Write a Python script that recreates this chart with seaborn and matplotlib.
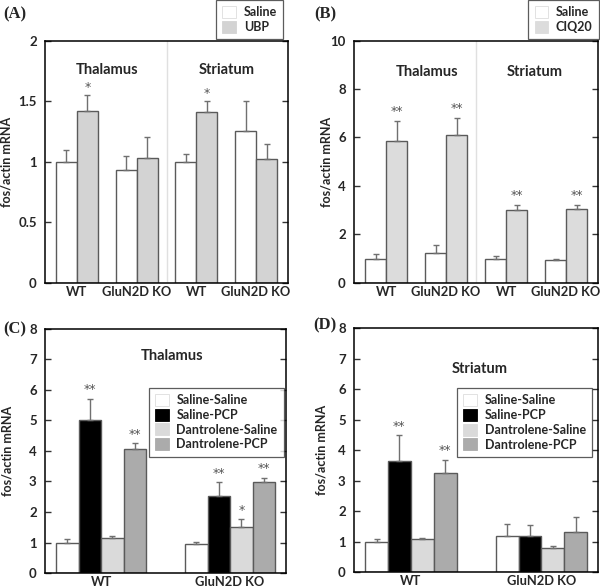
import numpy as np
import pandas as pd
import matplotlib
matplotlib.use("Agg")
import matplotlib.pyplot as plt
import seaborn as sns
from matplotlib.patches import Patch

# ---- data ----
ab_keys = ["Thal WT", "Thal KO", "Str WT", "Str KO"]
ab_ticks = ["WT", "GluN2D KO", "WT", "GluN2D KO"]

a_saline = [1.00, 0.93, 1.00, 1.25]
a_saline_err = [0.10, 0.12, 0.06, 0.25]
a_ubp = [1.42, 1.03, 1.41, 1.02]
a_ubp_err = [0.13, 0.17, 0.09, 0.13]
a_stars = [["", "", "", ""], ["*", "", "*", ""]]

b_saline = [1.00, 1.25, 1.00, 0.95]
b_saline_err = [0.17, 0.33, 0.10, 0.05]
b_ciq = [5.87, 6.10, 3.02, 3.05]
b_ciq_err = [0.83, 0.72, 0.20, 0.18]
b_stars = [["", "", "", ""], ["**", "**", "**", "**"]]

cd_keys = ["WT", "GluN2D KO"]
cd_groups = ["Saline-Saline", "Saline-PCP", "Dantrolene-Saline", "Dantrolene-PCP"]

c_vals = [[1.00, 0.95], [5.00, 2.52], [1.15, 1.52], [4.08, 2.98]]
c_err = [[0.10, 0.08], [0.72, 0.45], [0.06, 0.25], [0.18, 0.15]]
c_stars = [["", ""], ["**", "**"], ["", "*"], ["**", "**"]]

d_vals = [[1.00, 1.17], [3.63, 1.18], [1.10, 0.80], [3.26, 1.30]]
d_err = [[0.10, 0.40], [0.85, 0.38], [0.03, 0.06], [0.42, 0.50]]
d_stars = [["", ""], ["**", ""], ["", ""], ["**", ""]]

sns.set_style("white")
plt.rcParams["font.family"] = ["Lato", "DejaVu Sans"]

fig = plt.figure(figsize=(6, 5.88), dpi=100)
axA = fig.add_axes([0.075, 0.519, 0.405, 0.412])
axB = fig.add_axes([0.590, 0.519, 0.407, 0.412])
axC = fig.add_axes([0.075, 0.0255, 0.402, 0.415])
axD = fig.add_axes([0.590, 0.027, 0.407, 0.415])

EDGE = "#5a5a5a"


def draw(ax, keys, groups, vals, errs, stars, colors, ymax, step, star_off):
    rows = []
    for g, v in zip(groups, vals):
        for k, y in zip(keys, v):
            rows.append({"cat": k, "grp": g, "val": y})
    df = pd.DataFrame(rows)
    sns.barplot(data=df, x="cat", y="val", hue="grp", order=keys,
                hue_order=groups, palette=colors, saturation=1, width=0.7,
                errorbar=None, edgecolor=EDGE, linewidth=1.0, legend=False,
                ax=ax, zorder=2)
    for cont, e, s in zip(ax.containers, errs, stars):
        xs = [b.get_x() + b.get_width() / 2 for b in cont.patches]
        ys = [b.get_height() for b in cont.patches]
        ax.errorbar(xs, ys, yerr=[np.zeros(len(e)), e], fmt="none",
                    ecolor="#707070", elinewidth=1.0, capsize=2.2,
                    capthick=1.0, zorder=3)
        for x, y, ee, st in zip(xs, ys, e, s):
            if st:
                ax.text(x, y + ee + star_off, st, ha="center", va="bottom",
                        fontsize=9, color="#555555", family="DejaVu Sans")
    ax.set_ylim(0, ymax)
    ax.set_yticks(np.arange(0, ymax + step / 2, step))
    ax.yaxis.set_major_formatter(matplotlib.ticker.FuncFormatter(lambda v, p: f"{v:g}"))
    ax.set_xlabel("")
    ax.set_ylabel("fos/actin mRNA", fontsize=9, fontweight="bold")
    ax.tick_params(axis="y", direction="in", length=4, width=1, left=True,
                   right=True, labelsize=9.5, pad=6, color="#333333")
    ax.tick_params(axis="x", length=0, labelsize=9.3, pad=2)
    for lab in ax.get_xticklabels() + ax.get_yticklabels():
        lab.set_fontweight("bold")
    for sp in ax.spines.values():
        sp.set_visible(True)
        sp.set_color("black")
        sp.set_linewidth(1.1)
    return df


# (A)
draw(axA, ab_keys, ["Saline", "UBP"], [a_saline, a_ubp], [a_saline_err, a_ubp_err],
     a_stars, ["white", "#d3d3d3"], 2, 0.5, 0.01)
axA.set_xticks(range(4))
axA.set_xticklabels(ab_ticks, fontweight="bold")
axA.axvline(1.5, color="#e0e0e0", lw=1, zorder=1)
axA.text(0.5, 1.76, "Thalamus", ha="center", va="center", fontsize=10.5, fontweight="bold")
axA.text(2.5, 1.76, "Striatum", ha="center", va="center", fontsize=10.5, fontweight="bold")
axA.yaxis.set_label_coords(-0.135, 0.5)

# (B)
draw(axB, ab_keys, ["Saline", "CIQ20"], [b_saline, b_ciq], [b_saline_err, b_ciq_err],
     b_stars, ["white", "#dcdcdc"], 10, 2, 0.1)
axB.set_xticks(range(4))
axB.set_xticklabels(ab_ticks, fontweight="bold")
axB.axvline(1.5, color="#e0e0e0", lw=1, zorder=1)
axB.text(0.68, 8.7, "Thalamus", ha="center", va="center", fontsize=10.5, fontweight="bold")
axB.text(2.47, 8.7, "Striatum", ha="center", va="center", fontsize=10.5, fontweight="bold")
axB.yaxis.set_label_coords(-0.09, 0.5)

# (C) and (D)
cd_colors = ["white", "black", "#dadada", "#ababab"]
for ax, vals, errs, stars in [(axC, c_vals, c_err, c_stars), (axD, d_vals, d_err, d_stars)]:
    draw(ax, cd_keys, cd_groups, vals, errs, stars, cd_colors, 8, 1, 0.08)
    for b in ax.containers[2].patches:
        if hasattr(b, "set_hatchcolor"):
            b.set_hatch("-----")
            b.set_hatchcolor("#c4c4c4")
axC.text(0.55, 7.1, "Thalamus", ha="center", va="center", fontsize=10.5, fontweight="bold")
axD.text(0.53, 6.66, "Striatum", ha="center", va="center", fontsize=10.5, fontweight="bold")
axC.yaxis.set_label_coords(-0.13, 0.5)
axD.yaxis.set_label_coords(-0.11, 0.5)


def legend(ax, labels, colors, anchor, lw=0.9):
    handles = [Patch(facecolor=c, edgecolor="#dddddd" if c == "white" else c,
                     lw=0.6) for c in colors]
    leg = ax.legend(handles, labels, loc="upper right", bbox_to_anchor=anchor,
                    frameon=True, fancybox=False, handlelength=1.1,
                    handleheight=1.1, handletextpad=0.6, labelspacing=0.2,
                    borderpad=0.5, borderaxespad=0,
                    prop={"weight": "bold", "size": 9})
    leg.get_frame().set_edgecolor("#333333")
    leg.get_frame().set_linewidth(lw)
    leg.set_clip_on(False)
    return leg


legend(axA, ["Saline", "UBP"], ["white", "#d3d3d3"], (0.98, 1.168))
legend(axB, ["Saline", "CIQ20"], ["white", "#dcdcdc"], (1.003, 1.168))
legend(axC, cd_groups, cd_colors, (0.99, 0.76))
legend(axD, cd_groups, cd_colors, (0.975, 0.755))

# panel letters
for x, y, s in [(0.005, 0.44, "(C)"), (0.005, 0.975, "(A)"),
                (0.523, 0.975, "(B)"), (0.522, 0.447, "(D)")]:
    fig.text(x, y, s, fontsize=12, fontweight="bold", family="Liberation Serif",
             va="center", ha="left")

fig.savefig("out.png", dpi=100)
